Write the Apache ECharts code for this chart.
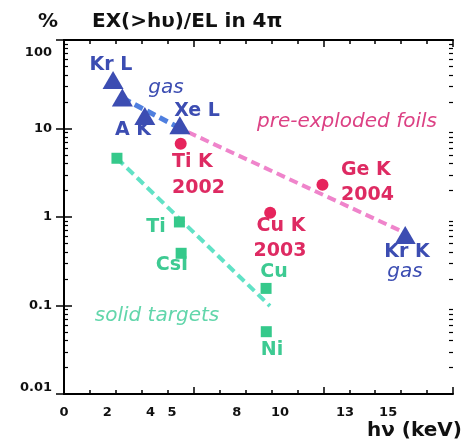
<!DOCTYPE html>
<html><head><meta charset="utf-8">
<script src="https://cdn.jsdelivr.net/npm/echarts@6/dist/echarts.min.js"></script>
<style>html,body{margin:0;padding:0;background:#fff}#c{width:467px;height:447px}</style>
</head><body><div id="c"></div>
<script>
// ---- data (x: photon energy keV, y: % conversion efficiency) ----
const gasPoints   = [[2.27, 35.3], [2.70, 22.4], [3.74, 13.8], [5.36, 10.9], [15.79, 0.627]];
const foilPoints  = [[5.40, 6.71], [9.54, 1.12], [11.96, 2.32]];
const solidPoints = [[2.45, 4.61], [5.34, 0.879], [5.42, 0.389], [9.35, 0.156], [9.36, 0.0506]];
const gasTrend    = [[2.70, 22.1], [5.36, 10.1]];
const foilTrend   = [[5.73, 9.12], [15.79, 0.66]];
const solidTrend  = [[2.45, 4.61], [9.53, 0.0987]];
const xTickLabels = [0, 2, 4, 5, 8, 10, 13, 15];
const yTickLabels = [0.01, 0.1, 1, 10, 100];
const yMinorMult  = [2, 3, 4, 5, 6, 7, 8, 9];

const BLUE = '#3c4db2', BLUE_DASH = '#4f7fdf';
const PINK = '#e6245c', PINK_TXT = '#de2a62', PINK_IT = '#dc4184', PINK_DASH = '#ef84cb';
const GREEN = '#35c98b', GREEN_TXT = '#3dca92', GREEN_IT = '#62d6ab', GREEN_DASH = '#61e2c6';
const FB = 'bold 19px "DejaVu Sans"', FI = 'italic 20px "DejaVu Sans"';

const yMinorLog = [];
for (let d = -2; d < 2; d++) yMinorMult.forEach(m => yMinorLog.push(Math.log10(m) + d));

const G = { left: 64, right: 14, top: 40, bottom: 53 };
const axLine = { show: true, lineStyle: { color: '#000', width: 2 } };

function txt(text, x, y, font, fill, align) {
  return { type: 'text', x: x, y: y, silent: true,
    style: { text: text, font: font, fill: fill, align: align || 'center', verticalAlign: 'middle' } };
}

const chart = echarts.init(document.getElementById('c'), null, { renderer: 'canvas' });
chart.setOption({
  animation: false,
  backgroundColor: '#fff',
  grid: [Object.assign({}, G), Object.assign({}, G)],
  xAxis: [
    { gridIndex: 0, type: 'value', position: 'bottom', min: 0, max: 18, interval: 6,
      axisLine: axLine, splitLine: { show: false },
      axisTick: { inside: true, length: 7, lineStyle: { color: '#000', width: 1.5 } },
      minorTick: { show: true, splitNumber: 5, length: 4, lineStyle: { color: '#000', width: 1.5 } },
      axisLabel: { customValues: xTickLabels, margin: 12, color: '#111', fontFamily: 'DejaVu Sans', fontWeight: 'bold', fontSize: 13 } },
    { gridIndex: 0, type: 'value', position: 'top', min: 0, max: 18, interval: 6,
      axisLine: axLine, splitLine: { show: false },
      axisTick: { inside: true, length: 7, lineStyle: { color: '#000', width: 1.5 } },
      minorTick: { show: true, splitNumber: 5, length: 4, lineStyle: { color: '#000', width: 1.5 } },
      axisLabel: { show: false } },
    { gridIndex: 1, type: 'value', min: 0, max: 1, show: false }
  ],
  yAxis: [
    { gridIndex: 0, type: 'log', logBase: 10, position: 'left', min: 0.01, max: 100,
      axisLine: axLine, splitLine: { show: false },
      axisTick: { inside: true, length: 8, lineStyle: { color: '#000', width: 1.5 } },
      axisLabel: { customValues: yTickLabels, margin: 12, color: '#111', fontFamily: 'DejaVu Sans', fontWeight: 'bold', fontSize: 13,
        formatter: v => v >= 100 ? '{a|100}' : (v <= 0.01 ? '{b|0.01}' : '{n|' + (+v.toPrecision(3)) + '}'),
        rich: { a: { padding: [26, 0, 0, 0], fontFamily: 'DejaVu Sans', fontWeight: 'bold', fontSize: 13, color: '#111' },
                b: { padding: [0, 0, 12, 0], fontFamily: 'DejaVu Sans', fontWeight: 'bold', fontSize: 13, color: '#111' },
                n: { fontFamily: 'DejaVu Sans', fontWeight: 'bold', fontSize: 13, color: '#111' } } } },
    { gridIndex: 0, type: 'log', logBase: 10, position: 'right', min: 0.01, max: 100,
      axisLine: axLine, splitLine: { show: false },
      axisTick: { inside: true, length: 8, lineStyle: { color: '#000', width: 1.5 } },
      axisLabel: { show: false } },
    { gridIndex: 1, type: 'value', position: 'left', min: -2, max: 2,
      axisLine: { show: false }, splitLine: { show: false }, axisLabel: { show: false },
      axisTick: { inside: true, length: 4, customValues: yMinorLog, lineStyle: { color: '#000', width: 1.2 } } },
    { gridIndex: 1, type: 'value', position: 'right', min: -2, max: 2,
      axisLine: { show: false }, splitLine: { show: false }, axisLabel: { show: false },
      axisTick: { inside: true, length: 4, customValues: yMinorLog, lineStyle: { color: '#000', width: 1.2 } } }
  ],
  series: [
    { type: 'line', xAxisIndex: 0, yAxisIndex: 0, data: solidTrend, symbol: 'none', z: 1,
      lineStyle: { color: GREEN_DASH, width: 4, type: [9, 5] } },
    { type: 'line', xAxisIndex: 0, yAxisIndex: 0, data: foilTrend, symbol: 'none', z: 1,
      lineStyle: { color: PINK_DASH, width: 4, type: [9, 5] } },
    { type: 'line', xAxisIndex: 0, yAxisIndex: 0, data: gasTrend, symbol: 'none', z: 1,
      lineStyle: { color: BLUE_DASH, width: 5, type: [9, 5] } },
    { type: 'scatter', xAxisIndex: 0, yAxisIndex: 0, data: solidPoints, symbol: 'rect', symbolSize: 11, z: 3,
      itemStyle: { color: GREEN, opacity: 1 } },
    { type: 'scatter', xAxisIndex: 0, yAxisIndex: 0, data: foilPoints, symbol: 'circle', symbolSize: 12, z: 3,
      itemStyle: { color: PINK, opacity: 1 } },
    { type: 'scatter', xAxisIndex: 0, yAxisIndex: 0, data: gasPoints, symbol: 'triangle', symbolSize: [21, 18], z: 4,
      itemStyle: { color: BLUE, opacity: 1 } }
  ],
  graphic: [
    txt('%', 48, 22, 'bold 20px "DejaVu Sans"', '#111'),
    txt('EX(>h\u03C5)/EL in 4\u03C0', 92, 22, 'bold 20px "DejaVu Sans"', '#111', 'left'),
    txt('h\u03BD (keV)', 367, 431, 'bold 20px "DejaVu Sans"', '#111', 'left'),
    txt('Kr L', 111, 65, FB, BLUE),
    txt('gas', 166, 88, FI, BLUE),
    txt('Xe L', 197, 111, FB, BLUE),
    txt('A K', 133, 130, FB, BLUE),
    txt('Kr K', 407, 252, FB, BLUE),
    txt('gas', 405, 272, FI, BLUE),
    txt('Ti K', 172, 162, FB, PINK_TXT, 'left'),
    txt('2002', 172, 188, FB, PINK_TXT, 'left'),
    txt('Ge K', 341, 170, FB, PINK_TXT, 'left'),
    txt('2004', 341, 195, FB, PINK_TXT, 'left'),
    txt('Cu K', 281, 226, FB, PINK_TXT),
    txt('2003', 280, 251, FB, PINK_TXT),
    txt('pre-exploded foils', 347, 122, FI, PINK_IT),
    txt('Ti', 156, 227, FB, GREEN_TXT),
    txt('CsI', 172, 265, FB, GREEN_TXT),
    txt('Cu', 274, 272, FB, GREEN_TXT),
    txt('Ni', 272, 350, FB, GREEN_TXT),
    txt('solid targets', 157, 316, FI, GREEN_IT)
  ]
});
</script></body></html>
